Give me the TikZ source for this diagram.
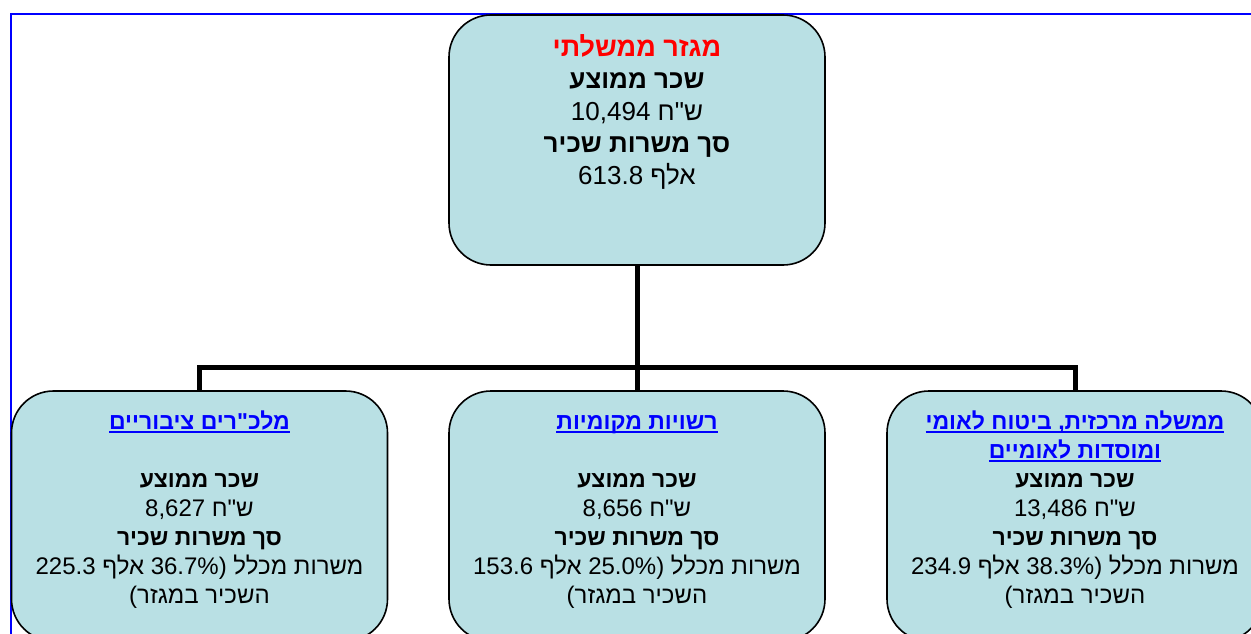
\documentclass[tikz,border=0pt]{standalone}
\usepackage{fontspec}
\setmainfont{Liberation Sans}
\newfontfamily\hebfont[Script=Hebrew]{Liberation Sans}
\TeXXeTstate=1
\usetikzlibrary{positioning}
\definecolor{boxfill}{RGB}{185,224,228}
\newcommand{\heb}[1]{\beginR #1\endR}
\newcommand{\tstrut}{\rule{0pt}{20pt}}
\newcommand{\hd}[1]{{\fontsize{23}{29}\selectfont\bfseries\heb{#1}}}
\newcommand{\ulink}[1]{\setbox0\hbox{\fontsize{23}{29}\selectfont\bfseries\heb{#1}}\mbox{\textcolor{blue}{\rlap{\rule[-3.5pt]{\wd0}{1.6pt}}\box0}}}

\begin{document}
\begin{tikzpicture}[x=1pt,y=-1pt,
    unit/.style={draw, fill=boxfill, line width=1.6pt, rounded corners=42pt,
      minimum width=376pt, minimum height=250pt, inner sep=0pt},
    info/.style={inner sep=0pt, align=center, font=\hebfont\fontsize{24}{29}\selectfont},
    link/.style={line width=5pt}]
\clip (0,0) rectangle (1251,634);
\draw[blue, line width=2pt] (11,700) |- (1300,14.3);

\node[unit] (sector) at (637,140) {};
\node[unit] (corp) at (199.5,516) {};
\node[unit] (local) at (637,516) {};
\node[unit] (central) at (1075,516) {};

\node[info, font=\hebfont\fontsize{26}{32}\selectfont, below=20pt of sector.north, anchor=north] (sectortxt)
  {\tstrut\textcolor{red}{\fontsize{27}{32}\selectfont\bfseries\heb{מגזר ממשלתי}}\\
   \textbf{\heb{שכר ממוצע}}\\
   \heb{ש"ח 10,494}\\
   \textbf{\heb{סך משרות שכיר}}\\
   \heb{אלף 613.8}};

\node[info, below=19pt of corp.north, anchor=north] (corptxt)
  {\tstrut\ulink{מלכ"רים ציבוריים}\\[29pt]
   \hd{שכר ממוצע}\\
   \heb{ש"ח 8,627}\\
   \hd{סך משרות שכיר}\\
   \heb{משרות מכלל (36.7\% אלף 225.3}\\
   \heb{השכיר במגזר)}};

\node[info, below=19pt of local.north, anchor=north] (localtxt)
  {\tstrut\ulink{רשויות מקומיות}\\[29pt]
   \hd{שכר ממוצע}\\
   \heb{ש"ח 8,656}\\
   \hd{סך משרות שכיר}\\
   \heb{משרות מכלל (25.0\% אלף 153.6}\\
   \heb{השכיר במגזר)}};

\node[info, below=19pt of central.north, anchor=north] (centraltxt)
  {\tstrut\ulink{ממשלה מרכזית, ביטוח לאומי}\\
   \ulink{ומוסדות לאומיים}\\
   \hd{שכר ממוצע}\\
   \heb{ש"ח 13,486}\\
   \hd{סך משרות שכיר}\\
   \heb{משרות מכלל (38.3\% אלף 234.9}\\
   \heb{השכיר במגזר)}};

\coordinate (hub) at (637,367.5);
\draw[link] (sector.south) -- (hub);
\draw[link] (hub) -| (corp.north);
\draw[link] (hub) -- (local.north);
\draw[link] (hub) -| (central.north);
\end{tikzpicture}
\end{document}
